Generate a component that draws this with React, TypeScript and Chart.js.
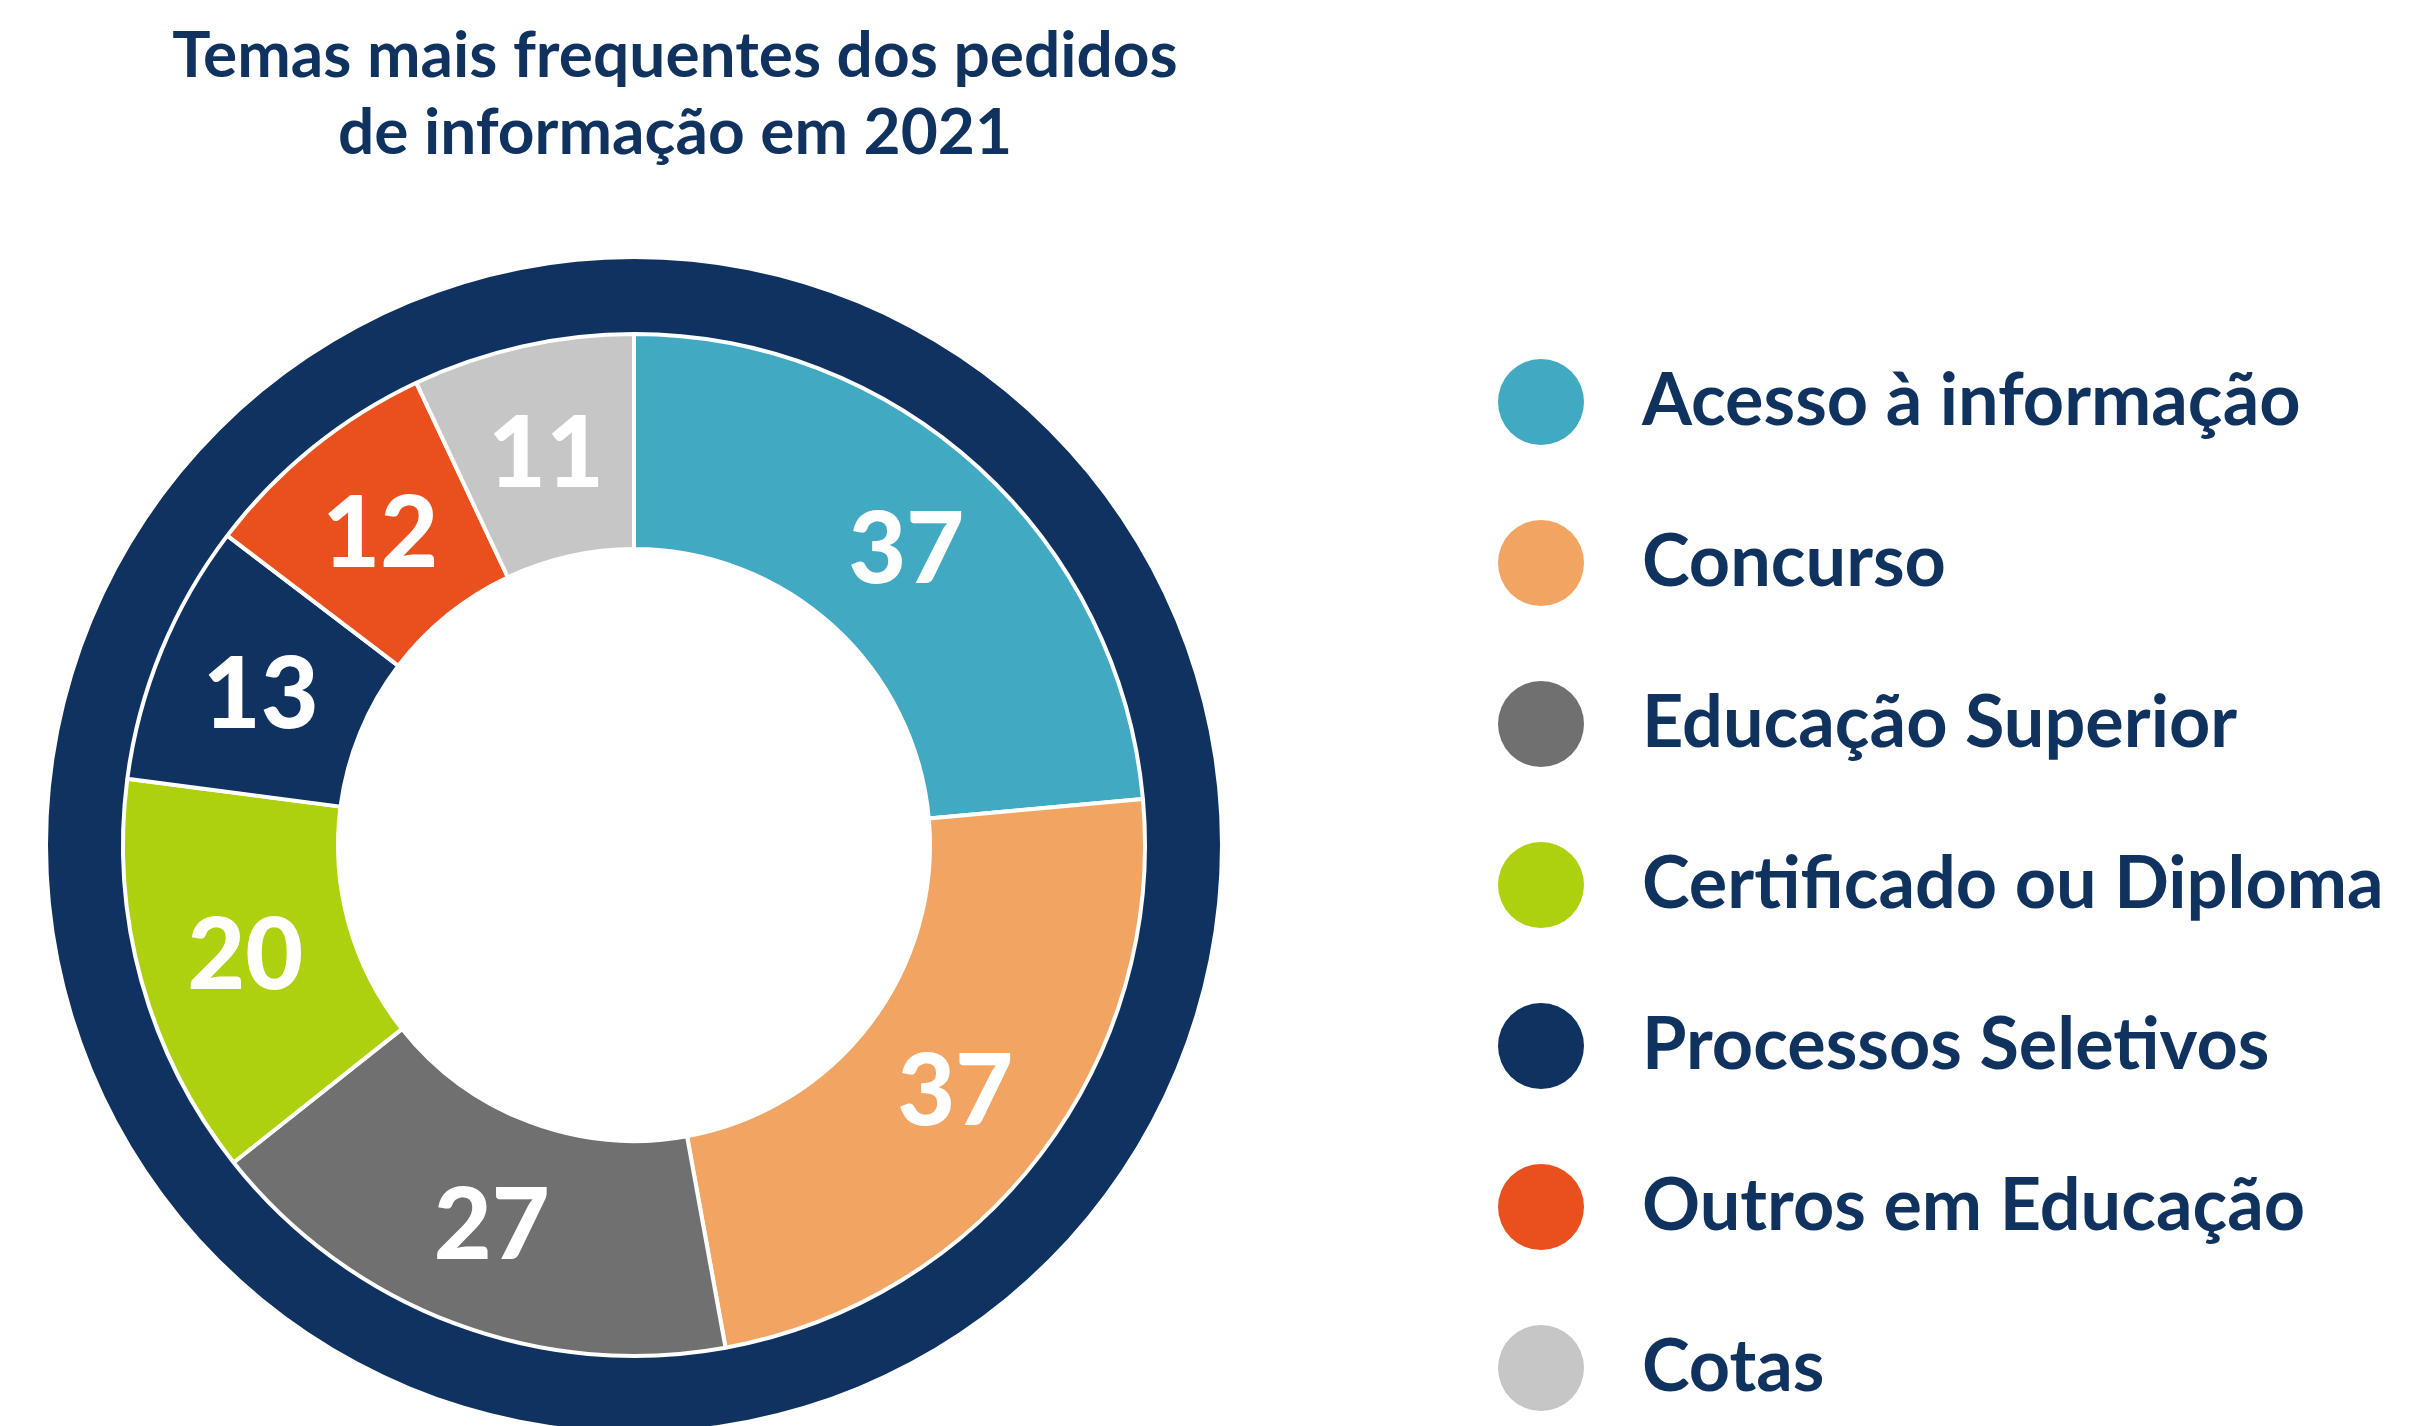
import React, { useEffect, useRef } from "react";
import { Chart, registerables } from "chart.js";

Chart.register(...registerables);

const TITLE_LINES = ["Temas mais frequentes dos pedidos", "de informação em 2021"];
const CATEGORIES = [
  "Acesso à informação",
  "Concurso",
  "Educação Superior",
  "Certificado ou Diploma",
  "Processos Seletivos",
  "Outros em Educação",
  "Cotas",
];
const VALUES = [37, 37, 27, 20, 13, 12, 11];
const COLORS = ["#42A9C2", "#F2A463", "#707070", "#ADD10E", "#0F3260", "#E9501E", "#C6C6C6"];
const RING_VALUE = [1];
const NAVY = "#0F3260";
const TEXT_NAVY = "#10325E";

// canvas is shifted left by this many px so the layout can place the donut freely
const SHIFT_X = 200;
const CANVAS_W = 2900;
const CANVAS_H = 1500;
const LEGEND_LEFT = 1587; // in canvas coordinates
const LEGEND_FONT = { family: "Lato", size: 72, weight: "bold" };
const LEGEND_PAD = 89;
const LEGEND_BOX_W = 130;

function makeDot(color: string, r: number): HTMLCanvasElement {
  const c = document.createElement("canvas");
  c.width = r * 2;
  c.height = r * 2;
  const g = c.getContext("2d")!;
  g.fillStyle = color;
  g.beginPath();
  g.arc(r, r, r, 0, Math.PI * 2);
  g.fill();
  return c;
}

const valueLabels = {
  id: "valueLabels",
  afterDatasetsDraw(chart: any) {
    const meta = chart.getDatasetMeta(1);
    const ctx = chart.ctx as CanvasRenderingContext2D;
    ctx.save();
    ctx.fillStyle = "#ffffff";
    ctx.font = "900 100px Lato";
    ctx.textAlign = "center";
    ctx.textBaseline = "alphabetic";
    meta.data.forEach((arc: any, i: number) => {
      const p = arc.tooltipPosition(true);
      ctx.fillText(String(VALUES[i]), p.x, p.y + 36);
    });
    ctx.restore();
  },
};

export default function App() {
  const ref = useRef<HTMLCanvasElement | null>(null);

  useEffect(() => {
    const canvas = ref.current;
    if (!canvas) return;
    const dots = COLORS.map((c) => makeDot(c, 43));

    // measure the longest legend text so the legend box (which clips) is wide enough
    const mctx = document.createElement("canvas").getContext("2d")!;
    mctx.font = `${LEGEND_FONT.weight} ${LEGEND_FONT.size}px ${LEGEND_FONT.family}`;
    const maxText = Math.max(...CATEGORIES.map((c) => mctx.measureText(c).width));
    const legendW = Math.ceil(LEGEND_PAD + LEGEND_BOX_W + LEGEND_FONT.size / 2 + maxText + 4);
    const padRight = CANVAS_W - LEGEND_LEFT - legendW;

    const chart = new Chart(canvas, {
      type: "doughnut",
      data: {
        labels: CATEGORIES,
        datasets: [
          {
            data: RING_VALUE,
            backgroundColor: [NAVY],
            borderWidth: 0,
            hoverBorderWidth: 0,
            weight: 75,
            order: 1,
          } as any,
          {
            data: VALUES,
            backgroundColor: COLORS,
            borderColor: "#ffffff",
            borderWidth: 4,
            hoverBorderWidth: 4,
            weight: 215,
            order: 0,
          } as any,
        ],
      },
      plugins: [valueLabels],
      options: {
        responsive: false,
        maintainAspectRatio: false,
        animation: false,
        events: [],
        radius: 586,
        cutout: "50.51%",
        layout: { padding: { left: 81, right: padRight, top: 197, bottom: 7 } },
        plugins: {
          tooltip: { enabled: false },
          title: { display: false },
          legend: {
            display: true,
            position: "right",
            align: "end",
            maxWidth: legendW,
            labels: {
              usePointStyle: true,
              pointStyleWidth: LEGEND_BOX_W,
              boxHeight: 61,
              padding: LEGEND_PAD,
              color: TEXT_NAVY,
              font: LEGEND_FONT,
              generateLabels: () =>
                CATEGORIES.map((c, i) => ({
                  text: c,
                  fillStyle: COLORS[i],
                  strokeStyle: COLORS[i],
                  fontColor: TEXT_NAVY,
                  lineWidth: 0,
                  pointStyle: dots[i],
                  hidden: false,
                  index: i,
                  datasetIndex: 1,
                })) as any,
            },
          },
        },
      } as any,
    });
    return () => chart.destroy();
  }, []);

  return (
    <div
      style={{
        position: "fixed",
        left: 0,
        top: 0,
        width: 2417,
        height: 1426,
        overflow: "hidden",
        background: "#ffffff",
      }}
    >
      <canvas
        ref={ref}
        width={CANVAS_W}
        height={CANVAS_H}
        style={{ position: "absolute", left: -SHIFT_X, top: 0, width: CANVAS_W, height: CANVAS_H }}
      />
      <div
        style={{
          position: "absolute",
          left: 0,
          top: 14,
          width: 1350,
          textAlign: "center",
          fontFamily: "Lato, sans-serif",
          fontWeight: 700,
          fontSize: 64,
          lineHeight: "77px",
          color: TEXT_NAVY,
          whiteSpace: "nowrap",
        }}
      >
        {TITLE_LINES.map((l, i) => (
          <div key={i}>{l}</div>
        ))}
      </div>
    </div>
  );
}
